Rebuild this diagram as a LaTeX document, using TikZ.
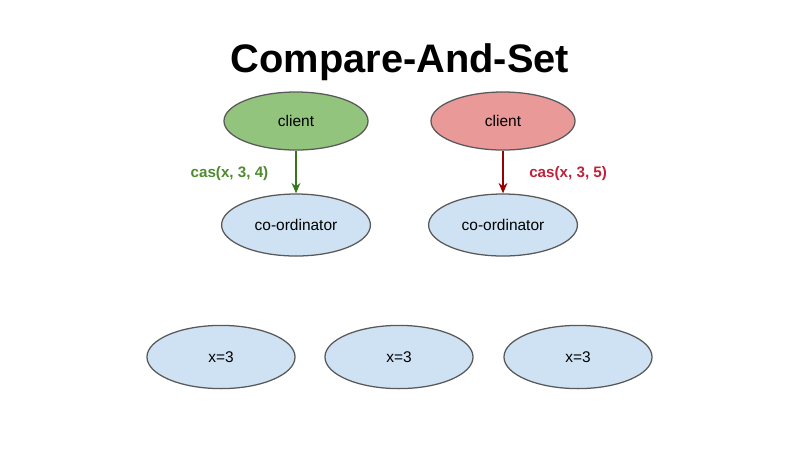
\documentclass[tikz,border=0pt]{standalone}
\usepackage{fontspec}
\setmainfont{Liberation Sans}
\usetikzlibrary{arrows.meta,shapes.geometric}
\definecolor{okgreen}{HTML}{93C47D}
\definecolor{okdark}{HTML}{38761D}
\definecolor{oktext}{HTML}{4E8A2E}
\definecolor{badred}{HTML}{EA9999}
\definecolor{baddark}{HTML}{990000}
\definecolor{badtext}{HTML}{C0213A}
\definecolor{nodeblue}{HTML}{CFE2F3}
\definecolor{rim}{HTML}{595959}
\tikzset{
  >={Stealth[length=2.6mm,width=2.2mm]},
  % noder
  ell/.style={ellipse,draw=rim,line width=0.9pt,inner sep=0pt,
              font=\fontsize{11}{13}\selectfont},
  cl/.style={ell,minimum width=3.6cm,minimum height=1.45cm},
  co/.style={ell,fill=nodeblue,minimum width=3.72cm,minimum height=1.55cm},
  rep/.style={ell,fill=nodeblue,minimum width=3.7cm,minimum height=1.58cm},
  % kanter
  casok/.style={->,draw=okdark,line width=1.4pt},
  casbad/.style={->,draw=baddark,line width=1.4pt},
  cl0/.style={font=\fontsize{10.8}{12}\selectfont\bfseries,inner sep=2pt},
}
\begin{document}
\begin{tikzpicture}[x=0.025cm,y=-0.025cm]
  \useasboundingbox (0,0) rectangle (800,450);
  \node[font=\fontsize{28.3}{32}\selectfont\bfseries] (title) at (400,62) {Compare-And-Set};
  \node[cl,fill=okgreen] (c1) at (296,121) {client};
  \node[cl,fill=badred] (c2) at (503,121) {client};
  \node[co] (k1) at (296,225) {co-ordinator};
  \node[co] (k2) at (503,225) {co-ordinator};
  \node[rep] (r1) at (221,357) {x=3};  \node[rep] (r2) at (399,357) {x=3};
  \node[rep] (r3) at (578,357) {x=3};
  \draw[casok] (c1) -- node[cl0,left=17pt,yshift=-1pt,text=oktext] {cas(x, 3, 4)} (k1);
  \draw[casbad] (c2) -- node[cl0,right=16pt,yshift=-1pt,text=badtext] {cas(x, 3, 5)} (k2);
\end{tikzpicture}
\end{document}
